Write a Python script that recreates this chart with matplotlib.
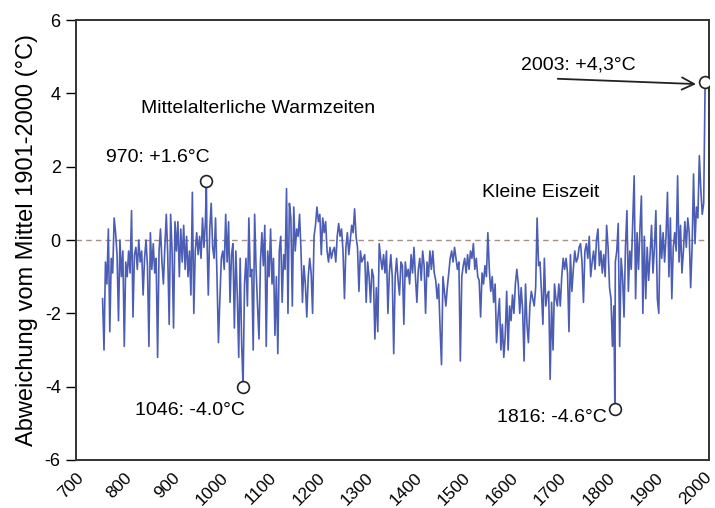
import numpy as np
import matplotlib
matplotlib.use("Agg")
import matplotlib.pyplot as plt

# Temperaturabweichung vom Mittel 1901-2000, every 3 years (755..2003)
start_year, step = 755, 3
anomaly = [
    -1.6, -3.0, -0.6, -1.2, 0.3, -2.5, -0.5, -0.9, 0.6, 0.2,        # 755-782
    -0.4, -2.2, 0.0, -1.0, -0.3, -2.9, -0.6, -1.0, -0.3, -0.9,      # 785-812
    0.8, -2.1, -0.4, -0.2, -0.8, 0.0, -0.6, -0.3, -1.5, -0.5,       # 815-842
    0.0, -0.7, -2.9, 0.2, -0.8, -0.1, -0.9, -0.5, -3.2, -0.3,       # 845-872
    0.3, -0.6, -1.2, -0.2, 0.7, -0.4, -2.3, 0.7, -0.3, -2.4,        # 875-902
    0.5, -0.3, 0.5, -1.0, 0.3, -0.6, 0.4, -0.8, 0.1, -1.0,          # 905-932
    -0.3, -1.5, 1.3, -2.0, -0.3, 0.2, -0.4, 0.1, -0.5, 0.6,         # 935-962
    -0.2, 0.5, 0.2, -1.5, 0.3, 1.0, -0.2, -0.5, 0.6, -1.0,          # 965-992
    -2.8, -1.6, -0.5, -0.3, -0.8, 0.7, -0.6, 0.5, -1.7, -0.4,       # 995-1022
    -0.1, -2.4, -0.3, -1.5, -3.2, -0.5, -2.8, -4.0, -1.2, -0.5,     # 1025-1052
    -1.8, 0.6, -1.0, -0.8, -3.0, 0.7, -0.8, -1.8, -2.7, -0.6,       # 1055-1082
    0.2, -0.7, 0.4, -2.9, -0.3, -1.0, 0.3, -1.2, -0.5, -2.6,        # 1085-1112
    -1.0, -3.1, -0.3, 0.1, -1.7, -0.4, -0.8, 1.4, -2.0, 1.0,        # 1115-1142
    0.6, -1.8, 0.9, -0.3, 0.3, 0.1, 0.7, -0.3, -1.7, -0.7,          # 1145-1172
    -1.2, -2.1, -1.0, -0.5, -0.9, -2.0, 0.1, 0.4, 0.9, 0.5,         # 1175-1202
    0.7, -0.4, 0.6, 0.2, 0.5, -0.3, -0.6, -0.2, -0.5, -0.3,         # 1205-1232
    -0.2, -0.6, 0.1, 0.45, 0.1, 0.3, -0.3, -1.6, -0.2, 0.2,         # 1235-1262
    -0.4, 0.0, 0.4, 0.2, 0.85, 0.1, -0.2, -1.4, -0.3, -0.6,         # 1265-1292
    -0.5, -0.4, -1.7, -0.6, -1.0, -1.7, -0.8, -1.0, -2.7, -1.3,     # 1295-1322
    -2.5, -0.1, -0.5, -0.8, -0.4, -0.9, -0.3, -2.0, -0.9, -0.4,     # 1325-1352
    -1.0, -3.1, -1.0, -0.5, -1.1, -1.5, -0.6, -0.7, -2.3, -0.6,     # 1355-1382
    -1.0, -0.8, -1.2, -0.4, -0.9, -0.2, -1.0, -1.7, -0.8, -0.5,     # 1385-1412
    -1.1, -0.3, -0.7, -2.0, -0.6, -1.0, -0.3, -0.8, -0.3, -0.9,     # 1415-1442
    -1.1, -1.6, -1.2, -2.4, -3.4, -1.0, -1.4, -1.8, -1.3, -0.9,     # 1445-1472
    -0.5, -0.3, -0.6, -0.2, -0.5, -0.8, -0.6, -3.3, -1.0, -0.7,     # 1475-1502
    -0.5, -0.9, -0.4, -0.8, -0.3, -0.5, -0.1, -0.8, -0.5, -1.0,     # 1505-1532
    -1.1, -2.1, -0.9, -1.2, -0.7, -1.0, 0.2, -0.8, -1.4, -1.0,      # 1535-1562
    -1.7, -1.2, -2.8, -2.1, -1.6, -3.0, -2.3, -3.2, -2.6, -1.4,     # 1565-1592
    -3.0, -1.8, -2.2, -1.5, -2.0, -1.2, -0.8, -1.2, -2.0, -1.3,     # 1595-1622
    -1.9, -3.3, -1.2, -2.3, -2.8, -1.8, -1.4, -1.6, -1.8, -1.3,     # 1625-1652
    0.6, -0.7, -0.6, -1.4, -2.3, -0.5, -1.8, -1.5, -1.4, -3.8,      # 1655-1682
    -1.7, -3.0, -1.2, -1.6, -1.8, -1.2, -1.8, -1.0, -0.5, -0.8,     # 1685-1712
    -0.5, -0.9, -2.5, -0.4, -1.4, -0.8, -0.3, -0.6, -0.5, -0.2,     # 1715-1742
    -0.1, -0.6, -1.7, -0.3, -0.1, -0.5, 0.1, -1.0, -0.6, -0.3,      # 1745-1772
    -0.8, 0.0, 0.3, -0.7, -0.3, -0.9, -0.4, -1.0, 0.4, -0.2,        # 1775-1802
    -1.3, -1.6, -2.9, -1.8, -0.6, -0.3, 0.45, -2.9, -0.5, -1.0,     # 1805-1832
    -2.1, -0.2, 0.8, -1.4, -0.3, -0.8, 0.5, 1.75, -1.6, 0.2,        # 1835-1862
    -0.8, 0.3, 1.2, -2.0, 0.1, -1.6, -0.2, -1.1, -0.4, 0.4,         # 1865-1892
    -0.9, -0.2, 0.8, -1.6, -2.0, 0.4, -0.5, 0.2, -0.6, 0.1,         # 1895-1922
    1.3, -1.0, 0.6, -1.6, -0.2, 0.2, -0.3, 1.75, -0.6, 0.4,         # 1925-1952
    -0.9, -0.3, 0.5, -0.2, 0.6, 0.2, -1.3, -0.2, 1.8, -0.1,         # 1955-1982
    0.9, 0.6, 2.3, 1.4, 0.7, 1.0, 4.3,                              # 1985-2003
]

# marked extremes
peak_years = [970, 1046, 1816, 2003]
peak_values = [1.6, -4.0, -4.6, 4.3]
peak_labels = ["970: +1.6°C", "1046: -4.0°C", "1816: -4.6°C", "2003: +4,3°C"]

x_ticks = list(range(700, 2001, 100))
y_ticks = [-6, -4, -2, 0, 2, 4, 6]

years = start_year + step * np.arange(len(anomaly))
values = np.array(anomaly, dtype=float)
for yr, v in zip(peak_years, peak_values):
    if yr not in years:
        years = np.append(years, yr)
        values = np.append(values, v)
order = np.argsort(years)
years, values = years[order], values[order]

plt.rcParams['font.family'] = ['Liberation Sans', 'DejaVu Sans']

fig = plt.figure(figsize=(7.15, 5.08), dpi=100)
ax = fig.add_axes([0.1063, 0.0945, 0.8853, 0.8661])

ax.axhline(0, color='#a39087', lw=1.0, ls=(0, (4, 3)), zorder=1)
ax.plot(years, values, color='#4b5db4', lw=1.2, zorder=2)
ax.plot(peak_years, peak_values, 'o', ms=8.5, mfc='white', mec='#222222', mew=1.2, zorder=3)

# text annotations
ax.text(1077, 3.6, "Mittelalterliche Warmzeiten", ha='center', va='center', fontsize=14)
ax.text(1663, 1.3, "Kleine Eiszeit", ha='center', va='center', fontsize=14)
ax.text(870, 2.25, peak_labels[0], ha='center', va='center', fontsize=14)
ax.text(936, -4.65, peak_labels[1], ha='center', va='center', fontsize=14)
ax.text(1686, -4.83, peak_labels[2], ha='center', va='center', fontsize=14)
ax.text(1740, 4.77, peak_labels[3], ha='center', va='center', fontsize=14)
ax.annotate("", xy=(1990, 4.25), xytext=(1692, 4.4),
            arrowprops=dict(arrowstyle='->', color='#222222', lw=1.3,
                            mutation_scale=22))

ax.set_xlim(700, 2011)
ax.set_ylim(-6, 6)
ax.set_xticks(x_ticks)
ax.set_xticklabels([str(t) for t in x_ticks], rotation=45, ha='right',
                   rotation_mode='anchor', fontsize=12.5)
ax.set_yticks(y_ticks)
ax.set_yticklabels([str(t) for t in y_ticks], fontsize=13)
ax.tick_params(axis='x', length=0, pad=7)
ax.tick_params(axis='y', direction='out', length=7, width=1, pad=4)
for s in ax.spines.values():
    s.set_linewidth(1.4)
    s.set_color('#333333')
ax.set_ylabel("Abweichung vom Mittel 1901-2000 (°C)", fontsize=17, labelpad=5)

fig.savefig("out.png", dpi=100)
